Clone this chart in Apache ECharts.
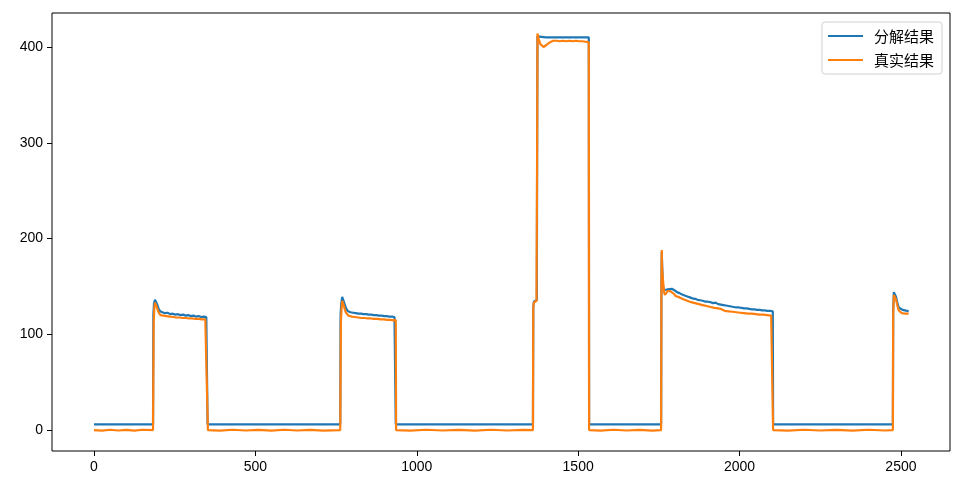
<!DOCTYPE html>
<html>
<head>
<meta charset="utf-8">
<script src="https://cdn.jsdelivr.net/npm/echarts@6/dist/echarts.min.js"></script>
<style>html,body{margin:0;padding:0;background:#fff}#c{width:968px;height:488px}</style>
</head>
<body>
<div id="c"></div>
<script>
const seriesNames = ['分解结果', '真实结果'];
const xTicks = [0, 500, 1000, 1500, 2000, 2500];
const yTicks = [0, 100, 200, 300, 400];

// 分解结果 (decomposition result): [sample index, value]
const decomposed = [
  [0,6],[183,6],
  [184,120],[186,132],[189,136],[192,135],[196,131],[200,127],[205,124],[212,123],[220,122],[228,122.5],[236,121],[244,121.5],[252,120.5],[260,121],[268,120],[276,120.5],[284,119.5],[292,120],[300,119],[308,119.5],[316,118.5],[324,119],[332,118],[340,118.5],[348,118],[351,118],
  [352,6],[763,6],
  [764,120],[766,132],[769,139],[772,137],[776,132],[781,127],[787,124],[795,123],[803,122.5],[811,122],[819,121.5],[827,121.5],[835,121],[843,121],[851,120.5],[859,120.5],[867,120],[875,120],[883,119.5],[891,119.5],[899,119],[907,119],[915,118.5],[923,118.5],[931,118],[934,118],
  [935,6],[1360,6],
  [1361,128],[1363,134],[1368,135],[1372,136],[1373,300],[1374,411],[1380,410.5],[1400,410],[1450,410],[1500,410],[1533,410],
  [1534,6],[1757,6],
  [1758,150],[1759,186],[1761,165],[1763,150],[1766,146],[1772,145],[1778,147],[1784,148],[1790,147.5],[1798,146],[1806,144],[1814,143],[1822,141.5],[1830,140.5],[1838,139.5],[1846,138.5],[1854,137.5],[1862,137],[1870,136],[1878,135.5],[1886,135],[1894,134],[1902,134],[1910,133.5],[1918,132.5],[1926,133],[1934,131.5],[1938,130.5],[1942,131],[1950,130.5],[1958,130],[1966,129.5],[1974,129],[1982,128.5],[1990,128],[1998,128],[2006,127.5],[2014,127],[2022,127],[2030,126.5],[2038,126],[2046,126],[2054,125.5],[2062,125.5],[2070,125],[2078,125],[2086,124.5],[2094,124.5],[2103,124],
  [2104,6],[2475,6],
  [2476,125],[2478,144],[2481,143],[2485,139],[2489,133],[2493,128],[2498,126],[2505,125.5],[2512,125],[2518,125.5],[2524,124]
];

// 真实结果 (measured result): [sample index, value]
const measured = [
  [0,0],[25,-0.6],[50,0.3],[75,-0.5],[100,0.2],[125,-0.6],[150,0.3],[183,0],
  [184,0],[185,112],[187,127],[189,133],[191,132],[194,129],[197,126],[200,123],[203,121],[206,120],[210,118.5],[215,119.5],[220,117.5],[225,119],[230,117],[235,118.5],[240,116.5],[245,118],[250,116.5],[255,117.5],[260,116],[265,117.5],[270,115.5],[275,117],[280,115.5],[285,117],[290,115],[295,116.5],[300,115],[305,116.5],[310,114.5],[315,116],[320,114.5],[325,116],[330,114],[335,115.5],[340,114],[345,115.5],[350,114],[352,114],
  [353,0],[390,-0.6],[430,0.3],[470,-0.5],[510,0.2],[550,-0.6],[590,0.3],[630,-0.5],[670,0.2],[710,-0.6],[763,0],
  [764,0],[765,112],[767,127],[769,135],[771,134],[774,130],[777,126],[780,123],[784,121],[788,119.5],[793,120.5],[798,118.5],[803,120],[808,118],[813,119.5],[818,117.5],[823,119],[828,117],[833,118.5],[838,117],[843,118.5],[848,116.5],[853,118],[858,116.5],[863,118],[868,116],[873,117.5],[878,116],[883,117.5],[888,115.5],[893,117],[898,115.5],[903,117],[908,115],[913,116.5],[918,115],[923,116.5],[928,114.5],[933,116],[935,115],
  [936,0],[980,-0.6],[1030,0.3],[1080,-0.5],[1130,0.2],[1180,-0.6],[1230,0.3],[1280,-0.5],[1330,0.2],[1360,0],
  [1361,128],[1363,133],[1367,134],[1371,135],[1373,300],[1374,414],[1378,408],[1383,403],[1388,401],[1393,400],[1398,400.5],[1403,402.5],[1408,404],[1413,405],[1418,406],[1423,406.5],[1428,407.5],[1433,406.5],[1438,407.5],[1443,406],[1448,407],[1453,406.5],[1458,407.5],[1463,406],[1468,407],[1473,406.5],[1478,407.5],[1483,406],[1488,407],[1493,406.5],[1498,407],[1503,406],[1508,407],[1513,406],[1518,406.5],[1523,405.5],[1528,406],[1533,405],
  [1534,0],[1570,-0.6],[1610,0.3],[1650,-0.5],[1690,0.2],[1730,-0.6],[1757,0],
  [1758,150],[1759,188],[1760,170],[1762,160],[1764,152],[1766,144],[1769,141],[1773,143],[1777,145],[1781,144],[1785,145],[1790,143],[1796,142.5],[1802,140],[1808,140.5],[1814,138.5],[1820,138.5],[1826,136.5],[1832,137],[1838,135],[1844,135.5],[1850,133.5],[1856,134],[1862,132.5],[1868,133],[1874,131.5],[1880,132],[1886,130.5],[1892,131],[1898,129.5],[1904,130],[1910,128.5],[1916,129],[1922,127.5],[1928,128.5],[1934,127],[1938,126],[1942,126.5],[1948,126],[1954,124.5],[1960,125.5],[1966,124],[1972,125],[1978,123.5],[1984,124.5],[1990,123],[1996,124],[2002,122.5],[2008,123.5],[2014,122],[2020,123],[2026,121.5],[2032,122.5],[2038,121.5],[2044,122],[2050,121],[2056,122],[2062,120.5],[2068,121.5],[2074,120.5],[2080,121],[2086,120],[2092,121],[2098,119.5],[2103,120],
  [2104,0],[2150,-0.6],[2200,0.3],[2250,-0.5],[2300,0.2],[2350,-0.6],[2400,0.3],[2450,-0.5],[2475,0],
  [2476,120],[2478,141],[2481,140],[2485,136],[2489,130],[2493,125],[2498,123],[2503,122],[2508,123],[2513,121.5],[2518,122.5],[2524,121.5]
];

const chart = echarts.init(document.getElementById('c'), null, {renderer: 'canvas'});
const axisFont = {fontFamily: 'Liberation Sans', fontSize: 14, color: '#000', formatter: v => String(v)};
chart.setOption({
  animation: false,
  backgroundColor: '#fff',
  grid: {left: 52, right: 18, top: 13, bottom: 37, show: true, borderColor: '#000', borderWidth: 1, containLabel: false},
  legend: {
    right: 26, top: 22, orient: 'vertical',
    icon: 'rect', itemWidth: 35, itemHeight: 2, itemGap: 8,
    padding: [6, 8, 6, 6],
    borderColor: '#d0d0d0', borderWidth: 1, borderRadius: 3,
    backgroundColor: 'rgba(255,255,255,0.8)',
    textStyle: {fontFamily: 'Noto Sans CJK SC', fontSize: 15, color: '#000', padding: [0, 0, 0, 6], lineHeight: 16},
    data: seriesNames
  },
  xAxis: {
    type: 'value', min: -130, max: 2652,
    axisLine: {show: false, onZero: false},
    axisTick: {show: true, length: 5, lineStyle: {color: '#000'}, customValues: xTicks},
    axisLabel: Object.assign({margin: 9, customValues: xTicks}, axisFont),
    splitLine: {show: false}
  },
  yAxis: {
    type: 'value', min: -21.9, max: 435.5,
    axisLine: {show: false, onZero: false},
    axisTick: {show: true, length: 5, lineStyle: {color: '#000'}, customValues: yTicks},
    axisLabel: Object.assign({margin: 9, customValues: yTicks}, axisFont),
    splitLine: {show: false}
  },
  series: [
    {name: seriesNames[0], type: 'line', data: decomposed, symbol: 'none', showSymbol: false, color: '#1f77b4', lineStyle: {width: 2.2, color: '#1f77b4'}, z: 2},
    {name: seriesNames[1], type: 'line', data: measured, symbol: 'none', showSymbol: false, color: '#ff7f0e', lineStyle: {width: 2.2, color: '#ff7f0e'}, z: 3}
  ]
});
</script>
</body>
</html>
